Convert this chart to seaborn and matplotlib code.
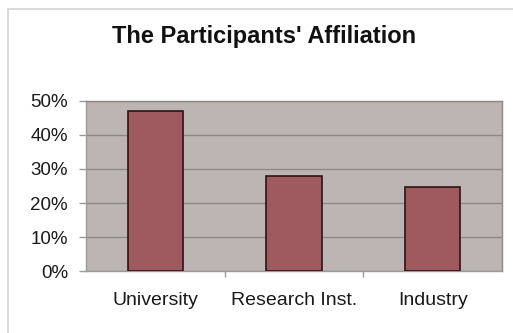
import matplotlib
matplotlib.use("Agg")
import matplotlib.pyplot as plt
import matplotlib.patches as mpatches
from matplotlib.ticker import PercentFormatter, MultipleLocator
import seaborn as sns
import pandas as pd

categories = ["University", "Research Inst.", "Industry"]
shares = [47.1, 27.9, 24.8]

sns.set_theme(style="white")
plt.rcParams["font.family"] = ["Liberation Sans", "DejaVu Sans"]

df = pd.DataFrame({"affiliation": categories, "share": shares})

fig = plt.figure(figsize=(5.13, 3.33), dpi=100)
fig.patch.set_facecolor("white")

# outer chart frame
fig.patches.append(mpatches.Rectangle((8 / 513, -0.05), 1.2, 1 - 9 / 333 + 0.05,
                                      transform=fig.transFigure, fill=False,
                                      edgecolor="#d4d4d4", linewidth=1.2, zorder=0))

ax = fig.add_axes([86 / 513, 62 / 333, 416 / 513, 170 / 333])
ax.set_facecolor("#bdb5b3")

sns.barplot(data=df, x="affiliation", y="share", ax=ax, color="#9e5a5e",
            saturation=1, width=0.4, edgecolor="#2e1414", linewidth=1.2, zorder=3)

ax.set_ylim(0, 50)
ax.yaxis.set_major_locator(MultipleLocator(10))
ax.yaxis.set_major_formatter(PercentFormatter(decimals=0))
ax.yaxis.grid(True, color="#8e8886", linewidth=1.0, zorder=1)
ax.set_axisbelow(True)
ax.set_xlabel("")
ax.set_ylabel("")

for side, sp in ax.spines.items():
    sp.set_color("#8e8886")
    sp.set_linewidth(1.0)
ax.spines["bottom"].set_color("#9a9a9a")
ax.spines["left"].set_color("#9a9a9a")

ax.tick_params(axis="y", which="major", left=True, length=5, width=1,
               color="#9a9a9a", labelsize=13.5, labelcolor="#1a1a1a", pad=8)
ax.tick_params(axis="x", which="major", bottom=False, labelsize=14,
               labelcolor="#1a1a1a", pad=9)
# category boundary ticks below the axis
ax.set_xticks([0.5, 1.5], minor=True)
ax.tick_params(axis="x", which="minor", bottom=True, length=4, width=1, color="#9a9a9a")

fig.text(264 / 513, 1 - 36 / 333, "The Participants' Affiliation", ha="center",
         va="center", fontsize=17, fontweight="bold", color="#111111")

fig.savefig("out.png", dpi=100)
